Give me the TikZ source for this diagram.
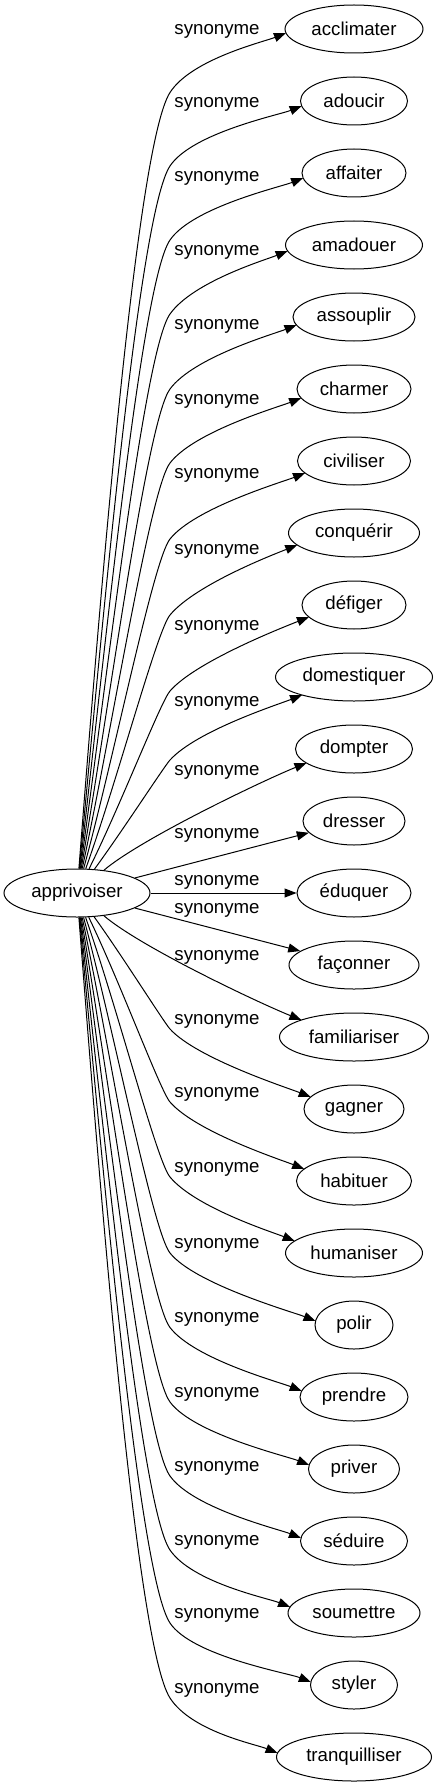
\documentclass[tikz,border=0pt]{standalone}
\usepackage{fontspec}
\setmainfont{Liberation Sans}
\usetikzlibrary{arrows.meta,calc,shapes.geometric}
\begin{document}
\begin{tikzpicture}[x=1pt,y=-1pt,
  every node/.style={font=\fontsize{18.67}{22}\selectfont},
  wnode/.style={draw, ellipse, line width=1pt, minimum height=48, inner sep=0pt},
  lbl/.style={inner sep=0pt},
  edge/.style={draw, line width=1pt, -{Triangle[length=12pt,width=9pt]}}]
\useasboundingbox (0,0) rectangle (437,1787);
\node[wnode, minimum width=146] (root) at (77,893) {apprivoiser};
\foreach \i/\w/\t in {0/138/acclimater, 1/107/adoucir, 2/104/affaiter, 3/137/amadouer,
  4/122/assouplir, 5/114/charmer, 6/113/civiliser, 7/131/conquérir, 8/104/défiger,
  9/157/domestiquer, 10/117/dompter, 11/102/dresser, 12/114/éduquer, 13/130/façonner,
  14/149/familiariser, 15/100/gagner, 16/115/habituer, 17/137/humaniser, 18/78/polir,
  19/108/prendre, 20/91/priver, 21/107/séduire, 22/132/soumettre, 23/87/styler,
  24/155/tranquilliser}
{
  \node[wnode, minimum width=\w] (t\i) at (354,{29+72*\i}) {\t};
}
\foreach \L [count=\n] in {31.5,104.5,178,252,326,401,475,551,627,703,772,835,882}
  \node[lbl] (lu\n) at (217,\L) {synonyme};
\foreach \L [count=\n] in {910,957,1021,1094,1169,1245,1319.5,1394,1468,1542,1615,1690}
  \node[lbl] (lw\n) at (217,\L) {synonyme};
\draw[edge] (root) -- (t11);
\draw[edge] (root) -- (t12);
\draw[edge] (root) -- (t13);
\draw[edge] (root) .. controls (142,838) and ($(t10.center)+(-87.5,30)$) .. ($(t10.center)+(-47.5,14)$);
\draw[edge] (root) .. controls (142,948) and ($(t14.center)+(-92.6,-33)$) .. ($(t14.center)+(-52.6,-17)$);
\foreach \i/\Py/\hw/\dy in {0/92.5/69/4, 1/166/53.5/5, 2/240/52/5, 3/314/68.5/6,
  4/389/61/8, 5/463/57/9, 6/539/56.5/12, 7/615/65.5/12, 8/691/52/12, 9/760/78.5/18,
  15/1029/50/12, 16/1102/57.5/12, 17/1177/68.5/12,
  18/1253/39/4, 19/1327.5/54/6, 20/1402/45.5/4, 21/1476/53.5/3, 22/1550/66/6,
  23/1623/43.5/3, 24/1698/77.5/4}
{
  \pgfmathsetmacro\sg{ifthenelse(\i<12,-1,1)}
  \pgfmathsetmacro\j{ifthenelse(\i<12,11-\i,\i-13)}
  \pgfmathsetmacro\Sy{893+(\sg)*24}
  \pgfmathsetmacro\m{(\sg)*(1+0.05*\j)}
  \pgfmathsetmacro\nrm{sqrt(1+(\m)*(\m))}
  \pgfmathsetmacro\ux{1/\nrm}
  \pgfmathsetmacro\uy{(\m)/\nrm}
  \pgfmathsetmacro\D{abs(\Py-\Sy)}
  \pgfmathsetmacro\cax{100+2.5*(11-\j)}
  \pgfmathsetmacro\cay{\Sy+(\sg)*0.35*\D}
  \pgfmathsetmacro\cbx{170-0.08*\D*\ux}
  \pgfmathsetmacro\cby{\Py-0.08*\D*(\uy)}
  \pgfmathsetmacro\ccx{170+40*\ux}
  \pgfmathsetmacro\ccy{\Py+40*(\uy)}
  \pgfmathsetmacro\ox{-\hw*sqrt(1-(\dy/24)^2)}
  \pgfmathsetmacro\oy{-(\sg)*\dy}
  \pgfmathsetmacro\odx{\ox-22}
  \pgfmathsetmacro\ody{\oy-(\sg)*8.8}
  \draw[edge] (root) .. controls (\cax,\cay) and (\cbx,\cby) .. (170,\Py)
     .. controls (\ccx,\ccy) and ($(t\i.center)+(\odx,\ody)$) .. ($(t\i.center)+(\ox,\oy)$);
}
\end{tikzpicture}
\end{document}
